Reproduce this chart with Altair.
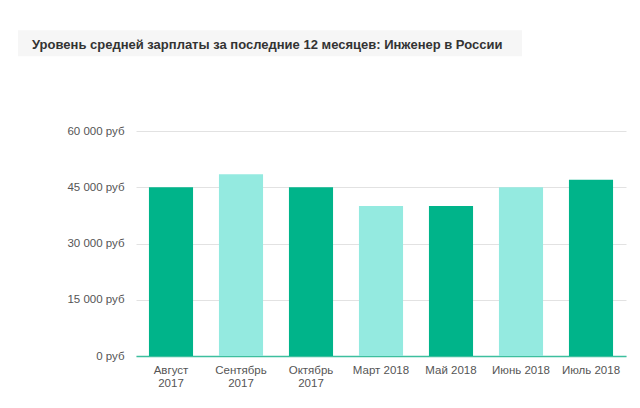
import altair as alt
import pandas as pd

months = ["Август 2017", "Сентябрь 2017", "Октябрь 2017", "Март 2018",
          "Май 2018", "Июнь 2018", "Июль 2018"]
salaries = [45000, 48500, 45000, 40000, 40000, 45000, 47000]
shades = ["dark", "light", "dark", "light", "dark", "light", "dark"]
y_ticks = [0, 15000, 30000, 45000, 60000]
title_text = "Уровень средней зарплаты за последние 12 месяцев: Инженер в России"

df = pd.DataFrame({"month": months, "salary": salaries, "shade": shades})
title_df = pd.DataFrame({"t": [title_text]})

FONT = "Liberation Sans"

bars = alt.Chart(df).mark_bar().encode(
    x=alt.X("month:N", sort=months, title=None,
            scale=alt.Scale(paddingInner=0.37, paddingOuter=0.185),
            axis=alt.Axis(labelAngle=0, domain=True, domainColor="#3dbf9e",
                          domainWidth=1.5, ticks=False, grid=False,
                          labelPadding=8, labelFontSize=11.5, labelColor="#555555",
                          labelFont=FONT, labelLineHeight=13,
                          labelExpr="length(datum.label) > 10 ? split(datum.label, ' ') : datum.label")),
    y=alt.Y("salary:Q", title=None,
            scale=alt.Scale(domain=[0, 60000], nice=False),
            axis=alt.Axis(values=y_ticks, domain=False, ticks=False, grid=True,
                          gridColor="#e2e2e2", labelPadding=12, labelFontSize=11.5,
                          labelColor="#555555", labelFont=FONT,
                          labelExpr="replace(format(datum.value, ','), ',', ' ') + ' руб'")),
    color=alt.Color("shade:N", legend=None,
                    scale=alt.Scale(domain=["dark", "light"], range=["#00b48a", "#94eae0"])),
)

title_box = alt.Chart(title_df).mark_rect(color="#f6f6f6").encode(
    x=alt.value(-118), x2=alt.value(386), y=alt.value(-100.7), y2=alt.value(-74.7)
)

title_mark = alt.Chart(title_df).mark_text(
    align="left", baseline="middle", font=FONT, fontSize=13, fontWeight="bold",
    color="#333333"
).encode(text="t:N", x=alt.value(-104), y=alt.value(-86))

chart = alt.layer(title_box, title_mark, bars).properties(
    width=490, height=225,
    autosize=alt.AutoSizeParams(type="none"),
    padding={"left": 128, "top": 123, "right": 6, "bottom": 44},
    background="white",
).configure_view(stroke=None)

chart.save("out.html", embed_options={"renderer": "svg", "actions": False})
